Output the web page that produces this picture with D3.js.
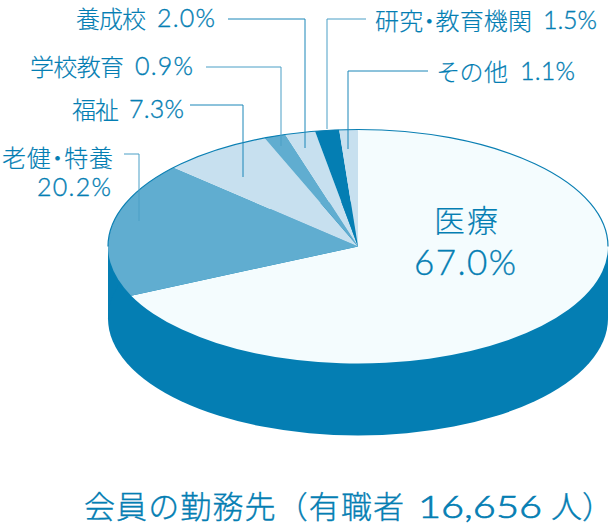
<!DOCTYPE html>
<html><head><meta charset="utf-8">
<script src="https://d3js.org/d3.v7.min.js"></script>
<style>html,body{margin:0;padding:0;background:#fff}svg{display:block}
text{font-family:"Noto Sans CJK JP",sans-serif;font-weight:300;fill:#047eb3;stroke:#047eb3;stroke-width:.15}
.j{font-feature-settings:"palt"}
.k{stroke-width:.35}
.n{font-family:"Lato","Noto Sans",sans-serif;font-weight:300;stroke-width:.35}
.c{font-family:"Lato","Noto Sans",sans-serif;font-weight:300;stroke-width:.7}</style>
</head><body><div id="c"></div>
<script>
const categories=["医療","老健・特養","福祉","学校教育","養成校","研究・教育機関","その他"];
const percentLabels=["67.0%","20.2%","7.3%","0.9%","2.0%","1.5%","1.1%"];
// wedge sizes as actually drawn in the picture (they differ a little from the printed percentages)
const drawnShares=[68.1,18.7,7.1,1.4,1.95,1.55,1.2];
const colors=["#f4fcfe","#60add0","#c7e0ef","#60add0","#c7e0ef","#047eb3","#c7e0ef"];
const W=616,H=528,cx=358,cy=246.5,rx=250,ry=117,depth=72;
const svg=d3.select("#c").append("svg").attr("width",W).attr("height",H);
const pie=d3.pie().sort(null).value(d=>d)(drawnShares);
const arc=d3.arc().innerRadius(0).outerRadius(rx);
const full={startAngle:0,endAngle:2*Math.PI};
const flat=`translate(${cx},${cy}) scale(1,${ry/rx})`;
const flatLow=`translate(${cx},${cy+depth}) scale(1,${ry/rx})`;
svg.append("rect").attr("x",cx-rx).attr("y",cy).attr("width",2*rx).attr("height",depth).attr("fill","#047eb3");
svg.append("path").attr("transform",flatLow).attr("fill","#047eb3").attr("d",arc(full));
svg.append("g").selectAll("path").data(pie).join("path").attr("transform",flat)
  .attr("d",arc).attr("fill",(d,i)=>colors[i]);
svg.append("path").attr("transform",flat).attr("fill","none").attr("stroke","#0a7fb3")
  .attr("stroke-width",1.2).attr("vector-effect","non-scaling-stroke")
  .attr("d",d3.arc().innerRadius(rx).outerRadius(rx)({startAngle:-Math.PI/2,endAngle:Math.PI/2}));
const leaders=[[124,154,139,221,"#4a9fc6"],[190,105,243,177,"#1a86b8"],[206,67,281,146,"#4a9fc6"],[228,19,305,148,"#1a86b8"],[366,19,327,129,"#4a9fc6"],[428,71,348,149,"#1a86b8"]];
svg.append("g").selectAll("path").data(leaders).join("path").attr("fill","none")
  .attr("stroke",d=>d[4]).attr("stroke-width",1)
  .attr("d",d=>`M${d[0]},${d[1]}H${d[2]}V${d[3]}`);
// text, class, x0, x1, centre y, font size
const labels=[
 [categories[4],"j",76,146,21,24],[percentLabels[4],"n",157,215,21,25],
 [categories[3],"j",30,124,69,24],[percentLabels[3],"n",135,193,69,25],
 [categories[2],"j",72,119,112,24],[percentLabels[2],"n",129,184,112,25],
 [categories[1],"j",2,113,160,24],[percentLabels[1],"n",37,111,190,25],
 [categories[5],"j",375,532,23,24],[percentLabels[5],"n",543,597,23,25],
 [categories[6],"j",437,508,74,24],[percentLabels[6],"n",520,575,74,25],
 [categories[0],"",434,498,224,31],[percentLabels[0],"n",414,516,266,35],
 ["会員の勤務先（有職者","k",84,404,510,31],["16,656","c",418,542,510,32],["人）","k",551,613,510,31]];
svg.append("g").selectAll("text").data(labels).join("text")
 .attr("class",d=>d[1]).attr("x",d=>d[2]).attr("y",d=>d[4]).attr("font-size",d=>d[5])
 .attr("dominant-baseline","middle").attr("textLength",d=>d[3]-d[2])
 .attr("lengthAdjust",d=>d[1]==="c"?"spacingAndGlyphs":"spacing")
 .text(d=>d[0]);
</script></body></html>
